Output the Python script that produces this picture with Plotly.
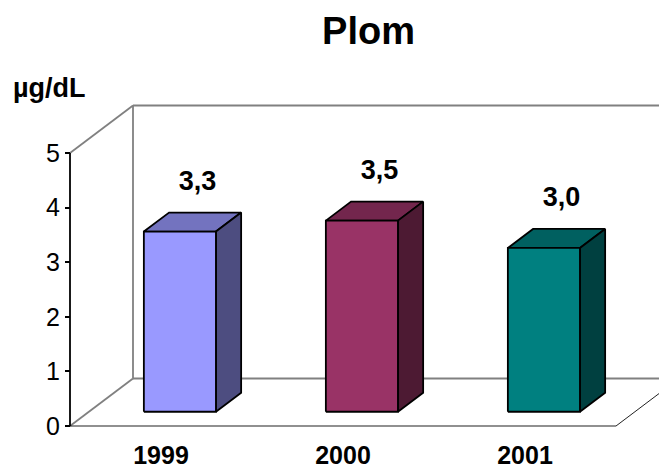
import plotly.graph_objects as go

# ---- data ----
categories = ["1999", "2000", "2001"]
values = [3.3, 3.5, 3.0]
value_labels = ["3,3", "3,5", "3,0"]
y_ticks = [0, 1, 2, 3, 4, 5]
title_text = "Plom"
unit_text = "µg/dL"

front_colors = ["#9999FF", "#993366", "#008080"]
top_colors = ["#7373BF", "#73264D", "#006060"]
side_colors = ["#4D4D80", "#4D1A33", "#004040"]

# ---- page offset (browser body margin) ----
OFF = 8
W, H = 667 - OFF, 471 - OFF

# ---- pseudo-3D projection (category units, value units, depth 0..1) ----
L_PX, R_PX, T_PX, B_PX = 67 - OFF, 667 - OFF, 100 - OFF, 429 - OFF
X0_PX, Y0_PX = 70 - OFF, 426 - OFF   # origin of the front plane
SX, SY = 182.0, 54.6                 # px per category, px per value unit
KX = 63.0 / SX                       # depth shift in category units
KY = 47.5 / SY                       # depth shift in value units
YMAX = 5
NCAT = len(categories)

x_range = [(L_PX - X0_PX) / SX, (R_PX - X0_PX) / SX]
y_range = [(Y0_PX - B_PX) / SY, (Y0_PX - T_PX) / SY]


def proj(c, v, d):
    return c + d * KX, v + d * KY


def poly(points):
    xs, ys = [], []
    for c, v, d in points + [points[0]]:
        x, y = proj(c, v, d)
        xs.append(x)
        ys.append(y)
    return xs, ys


def seg(p, q):
    x1, y1 = proj(*p)
    x2, y2 = proj(*q)
    return [x1, x2], [y1, y2]


fig = go.Figure()

GRAY = "#808080"
wall_lines = [
    ((0, YMAX, 1), (NCAT, YMAX, 1), GRAY, 1.8),
    ((0, 0, 1), (0, YMAX, 1), GRAY, 1.8),
    ((0, 0, 1), (NCAT, 0, 1), GRAY, 1.8),
    ((0, YMAX, 0), (0, YMAX, 1), GRAY, 1.8),
    ((0, 0, 0), (0, 0, 1), GRAY, 1.8),
    ((0, 0, 0), (NCAT, 0, 0), "#222222", 1.2),
    ((NCAT, 0, 0), (NCAT, 0, 1), "#222222", 1.0),
]
for p, q, col, wdt in wall_lines:
    xs, ys = seg(p, q)
    fig.add_trace(go.Scatter(x=xs, y=ys, mode="lines",
                             line=dict(color=col, width=wdt),
                             hoverinfo="skip", showlegend=False))

# bars
HW = 0.198
D0, D1 = 0.30, 0.70
for i, v in enumerate(values):
    cl, cr = i + 0.5 - HW, i + 0.5 + HW
    faces = [
        ([(cl, v, D0), (cr, v, D0), (cr, v, D1), (cl, v, D1)], top_colors[i]),
        ([(cr, 0, D0), (cr, 0, D1), (cr, v, D1), (cr, v, D0)], side_colors[i]),
        ([(cl, 0, D0), (cr, 0, D0), (cr, v, D0), (cl, v, D0)], front_colors[i]),
    ]
    for pts, col in faces:
        xs, ys = poly(pts)
        fig.add_trace(go.Scatter(x=xs, y=ys, mode="lines", fill="toself",
                                 fillcolor=col,
                                 line=dict(color="black", width=1.8),
                                 hoverinfo="skip", showlegend=False))

# front value axis line
xs, ys = seg((0, 0, 0), (0, YMAX, 0))
fig.add_trace(go.Scatter(x=xs, y=ys, mode="lines",
                         line=dict(color="black", width=1.8),
                         hoverinfo="skip", showlegend=False))

# value labels
lx, ly = [], []
for i, v in enumerate(values):
    x, y = proj(i + 0.5, v, 0.58)
    lx.append(x)
    ly.append(y + 0.64)
fig.add_trace(go.Scatter(x=lx, y=ly, mode="text", text=value_labels,
                         textposition="middle center",
                         textfont=dict(size=27, color="black",
                                       family="Liberation Sans, Arial, sans-serif",
                                       weight="bold"),
                         cliponaxis=False, hoverinfo="skip", showlegend=False))

fig.update_layout(
    width=W, height=H,
    margin=dict(l=L_PX, r=W - R_PX, t=T_PX, b=H - B_PX, pad=0,
                autoexpand=False),
    paper_bgcolor="white", plot_bgcolor="white",
    font=dict(family="Liberation Sans, Arial, sans-serif", color="black"),
    title=dict(text="<b>" + title_text + "</b>", font=dict(size=38),
               x=(368.5 - OFF) / W, xanchor="center", xref="container",
               y=1 - (31 - OFF) / H, yanchor="middle", yref="container"),
    xaxis=dict(range=x_range, showgrid=False, zeroline=False, showline=False,
               automargin=False,
               tickvals=[i + 0.5 for i in range(NCAT)], ticktext=categories,
               ticks="", ticklabelstandoff=9,
               tickfont=dict(size=25, weight="bold")),
    yaxis=dict(range=y_range, showgrid=False, zeroline=False, showline=False,
               automargin=False,
               tickvals=y_ticks, ticks="outside", ticklen=5, tickwidth=1.5,
               tickcolor="black", anchor="free",
               position=(X0_PX - L_PX) / (R_PX - L_PX),
               ticklabelstandoff=0, tickfont=dict(size=25)),
    showlegend=False,
    annotations=[dict(text="<b>" + unit_text + "</b>", xref="paper", yref="paper",
                      x=(11 - OFF - L_PX) / (R_PX - L_PX),
                      y=(B_PX - (88 - OFF)) / (B_PX - T_PX),
                      xanchor="left", yanchor="middle", showarrow=False,
                      font=dict(size=27))],
)

fig.write_html("out.html")
